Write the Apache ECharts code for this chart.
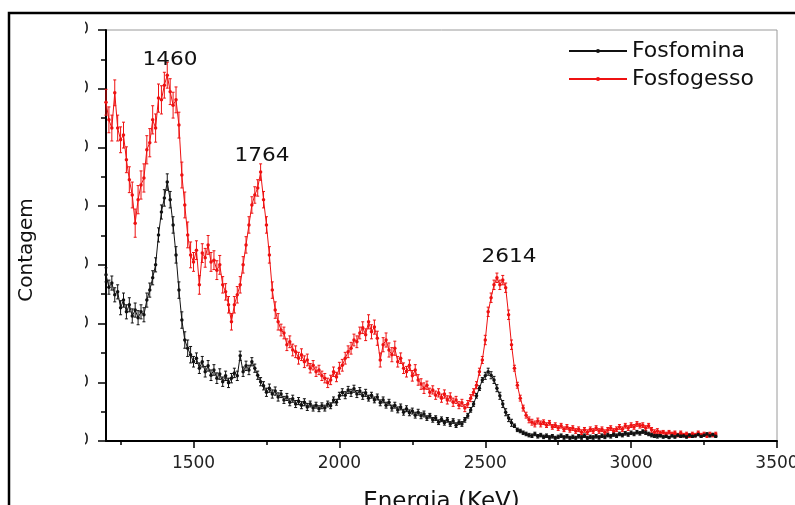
<!DOCTYPE html>
<html>
<head>
<meta charset="utf-8">
<script src="https://cdn.jsdelivr.net/npm/echarts@6/dist/echarts.min.js"></script>
<style>
html, body { margin: 0; padding: 0; background: #fff; }
#main { width: 795px; height: 505px; }
</style>
</head>
<body>
<div id="main"></div>
<script>
// channel grid of the spectrum (keV)
var energyStart = 1200;
var energyStep = 10;

// counts per channel, one row = 100 keV
var fosfogesso = [
    577, 547, 533, 593, 533, 513, 521, 479, 445, 419,
    371, 411, 436, 448, 496, 508, 547, 533, 584, 581,
    606, 623, 595, 572, 581, 538, 453, 402, 351, 317,
    305, 325, 266, 320, 312, 334, 305, 308, 291, 300,
    266, 254, 232, 203, 232, 249, 266, 300, 334, 368,
    402, 419, 431, 458, 411, 368, 317, 257, 223, 203,
    189, 184, 164, 169, 155, 152, 141, 147, 135, 138,
    124, 129, 118, 121, 111, 107, 99, 104, 118, 109,
    124, 129, 141, 152, 158, 172, 169, 184, 193, 181,
    203, 186, 194, 175, 138, 164, 172, 155, 147, 158,
    135, 141, 124, 118, 129, 111, 121, 104, 97, 90,
    95, 83, 87, 78, 82, 73, 80, 70, 75, 66,
    70, 61, 65, 56, 63, 73, 83, 95, 118, 138,
    172, 220, 244, 266, 278, 266, 274, 261, 215, 164,
    124, 95, 73, 56, 44, 36, 32, 29, 34, 29,
    32, 27, 31, 24, 27, 22, 26, 20, 24, 19,
    22, 17, 20, 15, 19, 15, 20, 17, 22, 17,
    20, 15, 19, 22, 17, 20, 24, 20, 26, 22,
    27, 24, 29, 26, 27, 22, 26, 19, 15, 17,
    14, 15, 12, 15, 12, 14, 10, 14, 10, 12,
    9, 12, 10, 14, 10, 12, 9, 12, 10, 12
];

var fosfomina = [
    283, 262, 269, 249, 254, 227, 240, 220, 232, 213,
    223, 210, 220, 215, 240, 257, 278, 300, 351, 390,
    414, 441, 411, 368, 317, 257, 206, 172, 158, 147,
    135, 141, 124, 135, 118, 128, 112, 121, 107, 114,
    101, 111, 99, 107, 116, 111, 145, 118, 128, 121,
    135, 124, 112, 101, 94, 83, 90, 80, 85, 75,
    80, 70, 75, 66, 72, 63, 68, 61, 66, 58,
    63, 56, 61, 55, 60, 56, 63, 60, 70, 66,
    77, 83, 78, 87, 82, 89, 80, 85, 77, 82,
    73, 78, 70, 75, 65, 70, 61, 66, 56, 61,
    53, 58, 49, 55, 48, 51, 44, 49, 43, 46,
    39, 43, 36, 39, 32, 37, 31, 36, 29, 34,
    27, 32, 29, 36, 43, 53, 63, 77, 90, 104,
    111, 118, 112, 104, 90, 77, 63, 49, 39, 31,
    26, 19, 17, 14, 12, 10, 9, 12, 8, 10,
    7, 9, 6, 8, 5, 7, 9, 6, 8, 5,
    7, 5, 8, 6, 9, 5, 7, 6, 8, 6,
    9, 7, 10, 8, 11, 9, 12, 10, 13, 11,
    14, 12, 15, 13, 16, 14, 12, 10, 9, 8,
    9, 7, 8, 6, 9, 7, 10, 8, 9, 7,
    10, 8, 9, 11, 8, 10, 12, 9, 11, 8
];

// error bar half-widths, one value per 100 keV block
var erroFosfogesso = [22, 24, 22, 16, 14, 14, 10, 8, 10, 12, 9, 7, 6, 8, 5, 4, 4, 4, 4, 3, 3];
var erroFosfomina = [12, 12, 14, 9, 8, 7, 6, 5, 6, 5, 5, 4, 4, 6, 3, 3, 3, 3, 3, 2, 2];

var xMajorTicks = [1500, 2000, 2500, 3000, 3500];
var xMinorTicks = [1250, 1750, 2250, 2750, 3250];
var seriesNames = ['Fosfomina', 'Fosfogesso'];
var peakLabels = ['1460', '1764', '2614'];

function toPairs(arr) {
    return arr.map(function (v, i) { return [energyStart + i * energyStep, v]; });
}
function toErrors(arr, err) {
    return arr.map(function (v, i) {
        var e = err[Math.floor(i / 10)];
        return [energyStart + i * energyStep, Math.max(0, v - e), v + e];
    });
}

function renderErrorBar(params, api) {
    var lo = api.coord([api.value(0), api.value(1)]);
    var hi = api.coord([api.value(0), api.value(2)]);
    var st = { stroke: api.visual('color'), lineWidth: 1 };
    return {
        type: 'group',
        children: [
            { type: 'line', shape: { x1: lo[0], y1: lo[1], x2: hi[0], y2: hi[1] }, style: st },
            { type: 'line', shape: { x1: lo[0] - 1.5, y1: lo[1], x2: lo[0] + 1.5, y2: lo[1] }, style: st },
            { type: 'line', shape: { x1: hi[0] - 1.5, y1: hi[1], x2: hi[0] + 1.5, y2: hi[1] }, style: st }
        ]
    };
}

var FONT = '"DejaVu Sans", sans-serif';

var myChart = echarts.init(document.getElementById('main'));

var option = {
    animation: false,
    grid: {
        left: 106, right: 18, top: 30, bottom: 64,
        outerBoundsMode: 'none', containLabel: false,
        show: true, borderColor: '#9a9a9a', borderWidth: 1
    },
    legend: {
        data: seriesNames,
        orient: 'vertical',
        left: 568, top: 40,
        padding: 0,
        itemWidth: 58, itemHeight: 5, itemGap: 6,
        textStyle: { fontSize: 22, fontFamily: FONT, color: '#111', lineHeight: 22 }
    },
    xAxis: [
        {
            type: 'value', min: 1200, max: 3500,
            axisLine: { lineStyle: { color: '#000', width: 2 } },
            axisTick: { customValues: xMajorTicks, length: 7, lineStyle: { color: '#000', width: 1.5 } },
            axisLabel: {
                customValues: xMajorTicks, fontSize: 17, fontFamily: FONT, color: '#222', margin: 14,
                formatter: function (v) { return String(v); }
            },
            splitLine: { show: false },
            name: 'Energia (KeV)', nameLocation: 'middle', nameGap: 50,
            nameTextStyle: { fontSize: 23, fontFamily: FONT, color: '#111' }
        },
        {
            type: 'value', min: 1200, max: 3500, position: 'bottom',
            axisLine: { show: false },
            axisTick: { customValues: xMinorTicks, length: 4, lineStyle: { color: '#000', width: 1.5 } },
            axisLabel: { show: false },
            splitLine: { show: false }
        }
    ],
    yAxis: {
        type: 'value', min: 0, max: 700, interval: 100,
        axisLine: { show: true, lineStyle: { color: '#000', width: 2 } },
        axisTick: { show: true, length: 8, lineStyle: { color: '#000', width: 1.5 } },
        minorTick: { show: true, splitNumber: 2, length: 5, lineStyle: { color: '#000', width: 1.5 } },
        axisLabel: { fontSize: 17, fontFamily: FONT, color: '#222', margin: 17 },
        splitLine: { show: false }
    },
    series: [
        {
            name: 'erro Fosfogesso', type: 'custom',
            renderItem: renderErrorBar,
            data: toErrors(fosfogesso, erroFosfogesso),
            encode: { x: 0, y: [1, 2] },
            itemStyle: { color: '#ee1111' },
            silent: true
        },
        {
            name: 'Fosfogesso', type: 'line',
            data: toPairs(fosfogesso),
            symbol: 'circle', symbolSize: 3.5,
            itemStyle: { color: '#ee1111' },
            lineStyle: { color: '#ee1111', width: 1 },
            emphasis: { disabled: true }
        },
        {
            name: 'erro Fosfomina', type: 'custom',
            renderItem: renderErrorBar,
            data: toErrors(fosfomina, erroFosfomina),
            encode: { x: 0, y: [1, 2] },
            itemStyle: { color: '#111' },
            silent: true
        },
        {
            name: 'Fosfomina', type: 'line',
            data: toPairs(fosfomina),
            symbol: 'circle', symbolSize: 3.5,
            itemStyle: { color: '#111' },
            lineStyle: { color: '#111', width: 1 },
            emphasis: { disabled: true }
        }
    ],
    graphic: [
        // the y tick labels are cut off in the original figure
        { type: 'rect', z: 50, shape: { x: 38, y: 18, width: 47, height: 440 }, style: { fill: '#fff' } },
        { type: 'text', z: 60, x: 27, y: 250, rotation: Math.PI / 2,
          style: { text: 'Contagem', font: '20px ' + FONT, fill: '#111', align: 'center', verticalAlign: 'middle' } },
        { type: 'text', z: 60, x: 170, y: 60, scaleX: 1.08,
          style: { text: peakLabels[0], font: '20px ' + FONT, fill: '#111', align: 'center', verticalAlign: 'middle' } },
        { type: 'text', z: 60, x: 262, y: 156, scaleX: 1.08,
          style: { text: peakLabels[1], font: '20px ' + FONT, fill: '#111', align: 'center', verticalAlign: 'middle' } },
        { type: 'text', z: 60, x: 509, y: 257, scaleX: 1.08,
          style: { text: peakLabels[2], font: '20px ' + FONT, fill: '#111', align: 'center', verticalAlign: 'middle' } },
        { type: 'rect', z: 70, shape: { x: 9, y: 13, width: 800, height: 500 },
          style: { fill: 'none', stroke: '#000', lineWidth: 2.5 } }
    ]
};

myChart.setOption(option);
</script>
</body>
</html>
